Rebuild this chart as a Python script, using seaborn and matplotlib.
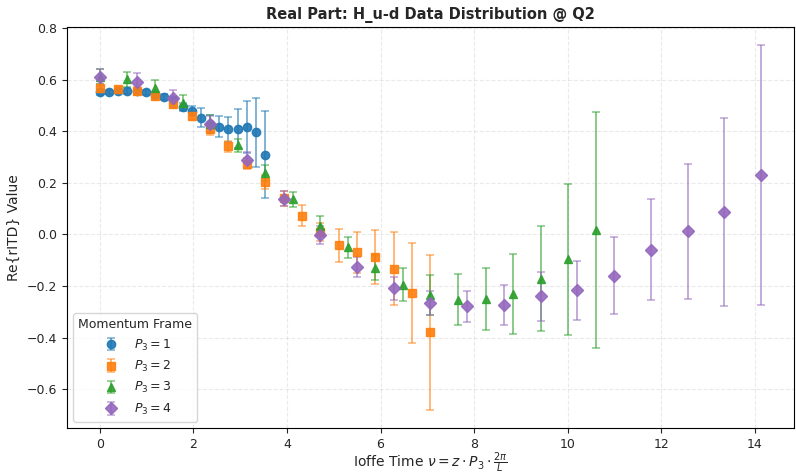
import numpy as np
import pandas as pd
import matplotlib
matplotlib.use("Agg")
import matplotlib.pyplot as plt
import seaborn as sns

# Ioffe time nu = z * P3 * 2pi / L, L = 32, z = 0..18
L = 32
z_vals = list(range(19))
momenta = [1, 2, 3, 4]

val_p1 = [0.552, 0.552, 0.555, 0.556, 0.555, 0.552, 0.542, 0.534, 0.52, 0.494,
          0.480, 0.452, 0.430, 0.417, 0.407, 0.410, 0.417, 0.397, 0.310]
err_p1 = [0.012, 0.008, 0.008, 0.010, 0.010, 0.010, 0.012, 0.012, 0.013, 0.015,
          0.020, 0.037, 0.035, 0.041, 0.050, 0.075, 0.100, 0.134, 0.167]

val_p2 = [0.569, 0.565, 0.556, 0.538, 0.507, 0.461, 0.407, 0.342, 0.274, 0.204,
          0.140, 0.072, 0.010, -0.041, -0.069, -0.088, -0.132, -0.226, -0.379]
err_p2 = [0.015, 0.012, 0.014, 0.015, 0.017, 0.018, 0.020, 0.021, 0.021, 0.028,
          0.030, 0.041, 0.035, 0.064, 0.080, 0.104, 0.141, 0.194, 0.300]

val_p3 = [0.612, 0.601, 0.569, 0.511, 0.428, 0.345, 0.239, 0.136, 0.033, -0.050,
          -0.129, -0.194, -0.235, -0.252, -0.249, -0.229, -0.171, -0.096, 0.017]
err_p3 = [0.030, 0.030, 0.030, 0.029, 0.035, 0.027, 0.030, 0.030, 0.040, 0.042,
          0.049, 0.063, 0.079, 0.099, 0.121, 0.155, 0.205, 0.292, 0.456]

val_p4 = [0.611, 0.593, 0.529, 0.428, 0.289, 0.139, -0.003, -0.125, -0.209, -0.266,
          -0.279, -0.273, -0.240, -0.217, -0.160, -0.059, 0.012, 0.088, 0.229]
err_p4 = [0.031, 0.032, 0.030, 0.030, 0.030, 0.030, 0.035, 0.039, 0.043, 0.048,
          0.059, 0.076, 0.095, 0.116, 0.149, 0.196, 0.263, 0.365, 0.504]

values = [val_p1, val_p2, val_p3, val_p4]
errors = [err_p1, err_p2, err_p3, err_p4]
markers = ["o", "s", "^", "D"]

rows = []
for p, v, e in zip(momenta, values, errors):
    for z, vv, ee in zip(z_vals, v, e):
        rows.append({"P3": p, "z": z, "nu": z * p * 2 * np.pi / L, "val": vv, "err": ee})
df = pd.DataFrame(rows)

sns.set_style("ticks")
tab = sns.color_palette("tab10", 10)
palette = [tab[0], tab[1], tab[2], tab[4]]

fig = plt.figure(figsize=(7.96, 4.75), dpi=100)
ax = fig.add_axes([0.084, 0.099, 0.914, 0.844])

for i, p in enumerate(momenta):
    sub = df[df["P3"] == p]
    cont = ax.errorbar(sub["nu"], sub["val"], yerr=sub["err"], fmt=markers[i],
                       color=palette[i], ecolor=palette[i], markersize=6,
                       elinewidth=1.3, capsize=3, capthick=1.1, alpha=0.9,
                       label=f"$P_3 = {p}$")
    for bl in cont[2]:
        bl.set_alpha(0.6)
    for cl in cont[1]:
        cl.set_alpha(0.6)

ax.set_xlim(-0.707, 14.85)
ax.set_ylim(-0.75, 0.804)
ax.grid(True, linestyle="--", alpha=0.4)
ax.set_xlabel(r"Ioffe Time $\nu = z \cdot P_3 \cdot \frac{2\pi}{L}$", fontsize=10, labelpad=0)
ax.set_ylabel("Re{rITD} Value", fontsize=10)
ax.set_title("Real Part: H_u-d Data Distribution @ Q2", fontsize=10.5, fontweight="bold")
ax.tick_params(labelsize=9)
for s in ax.spines.values():
    s.set_color("black")
ax.legend(title="Momentum Frame", loc="lower left", fontsize=9, title_fontsize=9)

fig.savefig("out.png", dpi=100)
